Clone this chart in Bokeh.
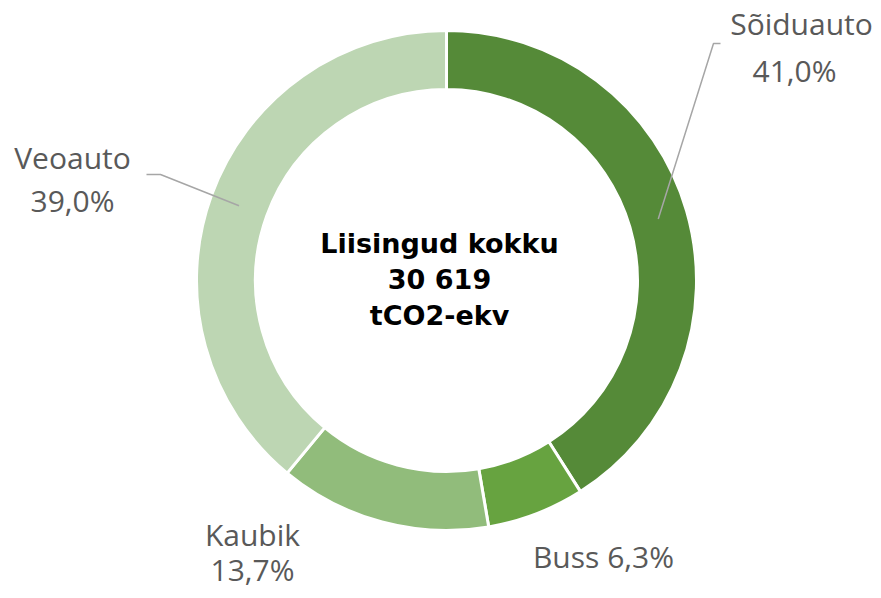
import math
from bokeh.plotting import figure
from bokeh.models import Range1d, ColumnDataSource
from bokeh.core.properties import value
from bokeh.embed import file_html
from bokeh.resources import INLINE

categories = ["Sõiduauto", "Buss", "Kaubik", "Veoauto"]
shares = [41.0, 6.3, 13.7, 39.0]
pct_labels = ["41,0%", "6,3%", "13,7%", "39,0%"]
colors = ["#558a38", "#67a340", "#91bc7b", "#bdd6b3"]
center_lines = ["Liisingud kokku", "30 619", "tCO2-ekv"]

W, H = 873, 590
OX, OY = 0, 0     # reference pixel at figure's top-left
CX, CY = 446, 280  # centre in reference pixels
R_IN, R_OUT = 191, 250

p = figure(width=W, height=H, output_backend="svg", toolbar_location=None,
           x_range=Range1d(OX - CX, OX + W - CX), y_range=Range1d(-(OY + H - CY), CY - OY),
           min_border=0)
p.axis.visible = False
p.grid.visible = False
p.outline_line_color = None
p.background_fill_color = "white"

total = sum(shares)
starts, ends, mids = [], [], []
acc = 0.0
for s in shares:
    a0 = math.pi / 2 - 2 * math.pi * acc / total
    a1 = math.pi / 2 - 2 * math.pi * (acc + s) / total
    starts.append(a0)
    ends.append(a1)
    mids.append((a0 + a1) / 2)
    acc += s

src = ColumnDataSource(dict(start=starts, end=ends, color=colors))
p.annular_wedge(x=0, y=0, inner_radius=R_IN, outer_radius=R_OUT,
                start_angle="start", end_angle="end", direction="clock",
                fill_color="color", line_color="white", line_width=3, source=src)

def px(x, y):
    return x - CX, CY - y

# leader lines: from mid-ring of slice to label
r_mid = (R_IN + R_OUT) / 2
lead = {0: [(713, 43), (720, 43)], 3: [(160, 174), (146, 174)]}
for i, pts in lead.items():
    xs = [r_mid * math.cos(mids[i])]
    ys = [r_mid * math.sin(mids[i])]
    for (x, y) in pts:
        X, Y = px(x, y)
        xs.append(X)
        ys.append(Y)
    p.line(xs, ys, line_color="#a6a6a6", line_width=1.5)

label_font = value("Open Sans")
lab_col = "#595959"
fs = "30px"
# label positions (reference pixel coordinates)
label_pos = {
    0: [(801, 23, categories[0]), (794, 70, pct_labels[0])],
    1: [(603, 556, categories[1] + " " + pct_labels[1])],
    2: [(252, 534, categories[2]), (252, 569, pct_labels[2])],
    3: [(72, 157, categories[3]), (72, 200, pct_labels[3])],
}
for i, items in label_pos.items():
    for (x, y, t) in items:
        X, Y = px(x, y)
        p.text(x=[X], y=[Y], text=[t], text_font=label_font, text_font_size=fs,
               text_color=lab_col, text_align="center", text_baseline="middle")

for k, t in enumerate(center_lines):
    X, Y = px(CX - 7, 243 + 36 * k)
    p.text(x=[X], y=[Y], text=[t], text_font=value("DejaVu Sans"), text_font_size="27px",
           text_font_style="bold", text_color="black", text_align="center",
           text_baseline="middle")

open("out.html", "w").write(file_html(p, INLINE))
